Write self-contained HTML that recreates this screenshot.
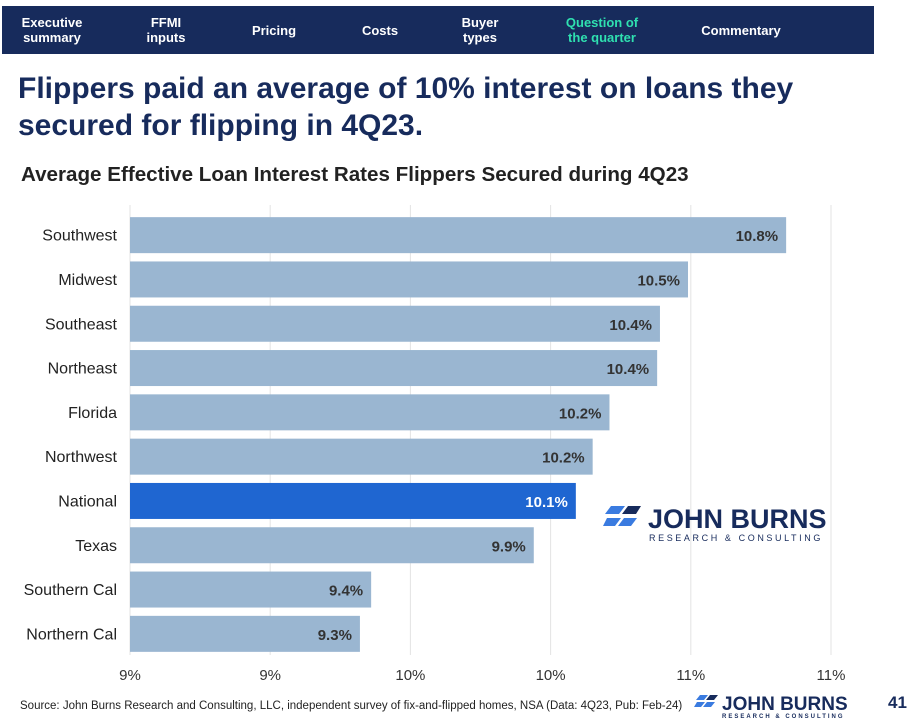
<!DOCTYPE html>
<html><head><meta charset="utf-8"><style>
body{margin:0;width:914px;height:726px;background:#fff;font-family:"Liberation Sans",sans-serif;position:relative;overflow:hidden}
.nav{position:absolute;left:2px;top:6px;width:872px;height:48px;background:#172b5c}
.nav div{position:absolute;top:0;height:48px;display:flex;align-items:center;justify-content:center;text-align:center;color:#fff;font-weight:bold;font-size:13px;line-height:15px}
h1{position:absolute;left:18px;top:70px;margin:0;font-size:30px;line-height:37px;color:#172b5c;font-weight:bold}
.sub{position:absolute;left:21px;top:163px;font-size:20.6px;font-weight:bold;color:#222}
.src{position:absolute;left:20px;top:700px;font-size:11.5px;color:#222}
.pg{position:absolute;left:888px;top:693px;font-size:17px;font-weight:bold;color:#172b5c}
</style></head><body>
<div class="nav">
<div style="left:6px;width:88px">Executive<br>summary</div>
<div style="left:124px;width:80px">FFMI<br>inputs</div>
<div style="left:232px;width:80px">Pricing</div>
<div style="left:338px;width:80px">Costs</div>
<div style="left:438px;width:80px">Buyer<br>types</div>
<div style="left:550px;width:100px;color:#2fe0b0">Question of<br>the quarter</div>
<div style="left:684px;width:110px">Commentary</div>
</div>
<h1>Flippers paid an average of 10% interest on loans they<br>secured for flipping in 4Q23.</h1>
<div class="sub">Average Effective Loan Interest Rates Flippers Secured during 4Q23</div>
<svg id="chart" width="914" height="726" style="position:absolute;left:0;top:0"></svg>
<div class="src">Source: John Burns Research and Consulting, LLC, independent survey of fix-and-flipped homes, NSA (Data: 4Q23, Pub: Feb-24)</div>
<div class="pg">41</div>
<script>
const categories=["Southwest","Midwest","Southeast","Northeast","Florida","Northwest","National","Texas","Southern Cal","Northern Cal"];
const values=[10.84,10.49,10.39,10.38,10.21,10.15,10.09,9.94,9.36,9.32];
const valueLabels=["10.8%","10.5%","10.4%","10.4%","10.2%","10.2%","10.1%","9.9%","9.4%","9.3%"];
const ticks=[8.5,9.0,9.5,10.0,10.5,11.0];
const tickLabels=["9%","9%","10%","10%","11%","11%"];
const NS="http://www.w3.org/2000/svg";
const svg=document.getElementById('chart');
const x0=130,x1=831,d0=8.5,d1=11.0;
const xs=v=>x0+(v-d0)/(d1-d0)*(x1-x0);
const yTop=213,step=44.3,bh=36;
function mk(t,a,txt){const e=document.createElementNS(NS,t);for(const k in a)e.setAttribute(k,a[k]);if(txt!=null)e.textContent=txt;svg.appendChild(e);return e;}
ticks.forEach((t,i)=>{
 const g=mk('line',{x1:xs(t),x2:xs(t),y1:205,y2:655,stroke:'#e3e3e3','stroke-width':1});
 
 
 const l=mk('text',{x:xs(t),y:680,'text-anchor':'middle','font-size':15,fill:'#333','font-family':'Liberation Sans'},tickLabels[i]);
 
 
});
categories.forEach((c,i)=>{
 const y=yTop+i*step+(step-bh)/2;
 const nat=c==="National";
 const b=mk('rect',{x:x0,y:y,width:xs(values[i])-x0,height:bh,fill:nat?'#1f66d1':'#9ab6d1'});
 
 
 const cl=mk('text',{x:117,y:y+bh/2+5.5,'text-anchor':'end','font-size':16,fill:'#222','font-family':'Liberation Sans'},c);
 
 
 const vl=mk('text',{x:xs(values[i])-8,y:y+bh/2+6,'text-anchor':'end','font-size':15,'font-weight':'bold',fill:nat?'#fff':'#333','font-family':'Liberation Sans'},valueLabels[i]);
 
 
});
</script>
<svg style="position:absolute;left:603px;top:504px" width="232" height="40">
<polygon points="8,2 22,2 16,10 2,10" fill="#3a7be0"/><polygon points="25,2 38,2 33,10 19,10" fill="#172b5c"/>
<polygon points="4,14 18,14 12,22 0,22" fill="#3a7be0"/><polygon points="21,14 34,14 28,22 15,22" fill="#3a7be0"/>
<text x="45" y="24" font-size="27" font-weight="bold" fill="#172b5c" font-family="Liberation Sans">JOHN BURNS</text>
<text x="46" y="37" font-size="9" letter-spacing="2.6" fill="#172b5c" font-family="Liberation Sans">RESEARCH &amp; CONSULTING</text>
</svg>
<svg style="position:absolute;left:694px;top:693px" width="160" height="28">
<polygon points="6,2 14,2 10,7 2,7" fill="#3a7be0"/><polygon points="16,2 24,2 20,7 12,7" fill="#172b5c"/>
<polygon points="3,9 11,9 7,14 0,14" fill="#3a7be0"/><polygon points="13,9 21,9 17,14 9,14" fill="#3a7be0"/>
<text x="28" y="17" font-size="19" font-weight="bold" fill="#172b5c" font-family="Liberation Sans">JOHN BURNS</text>
<text x="28" y="25" font-size="6" letter-spacing="2" font-weight="bold" fill="#172b5c" font-family="Liberation Sans">RESEARCH &amp; CONSULTING</text>
</svg>
</body></html>
